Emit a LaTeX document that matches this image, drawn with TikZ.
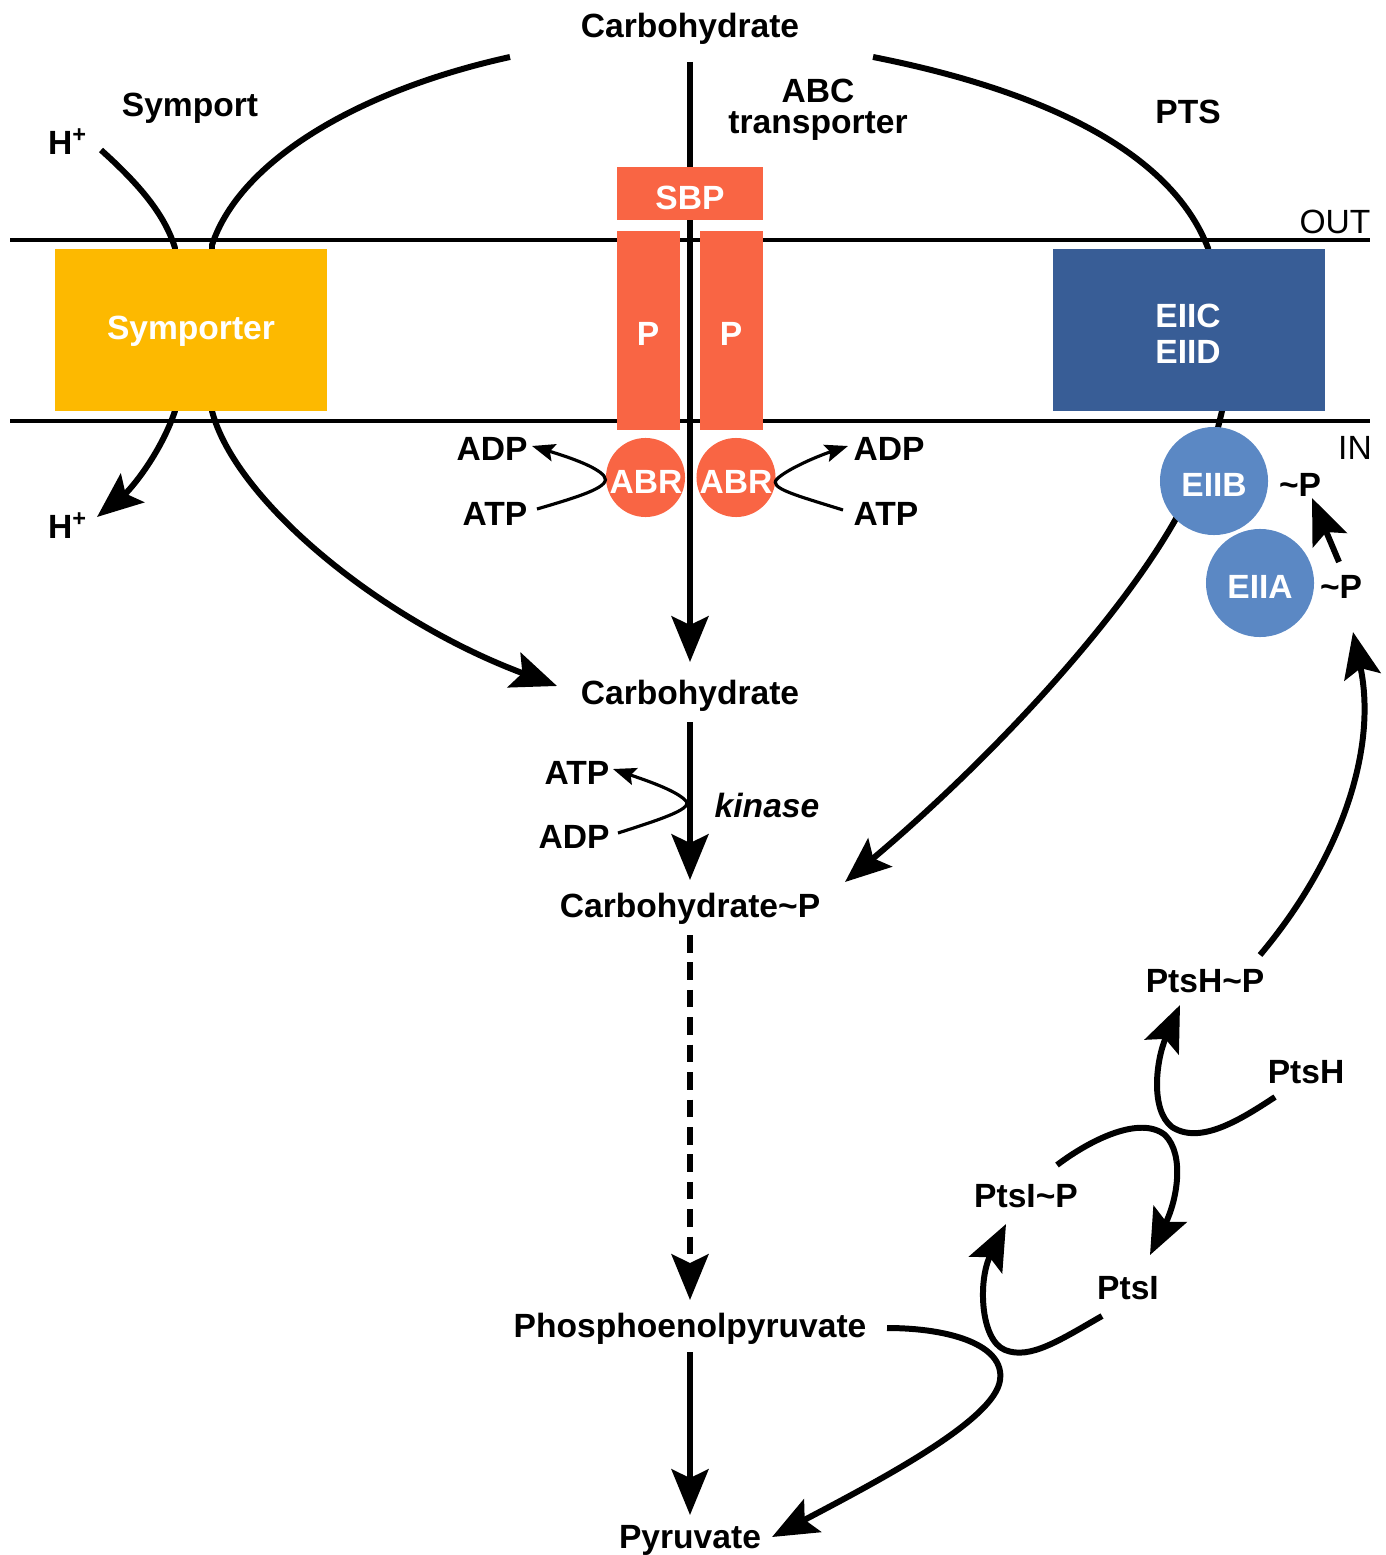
\documentclass[tikz,border=0pt]{standalone}
\usepackage{fontspec}
\setmainfont{Liberation Sans}
\usetikzlibrary{arrows.meta}
\definecolor{sympc}{RGB}{253,185,0}
\definecolor{abcc}{RGB}{249,101,68}
\definecolor{eiicc}{RGB}{56,93,150}
\definecolor{eiibc}{RGB}{91,136,196}
\begin{document}
\begin{tikzpicture}[x=0.01cm,y=-0.01cm,
  font=\fontsize{9.55}{10.3}\selectfont\bfseries,
  lbl/.style={inner sep=0pt, anchor=center, yshift=-0.035cm},
  wlbl/.style={lbl, text=white},
  memb/.style={line width=1pt},
  conn/.style={line width=1.7pt},
  thinconn/.style={line width=0.9pt},
  bigtip/.style={-{Stealth[length=13pt,width=10.5pt,inset=2.5pt]}},
  smalltip/.style={-{Stealth[length=6.5pt,width=5pt,inset=1.2pt]}}]
\useasboundingbox (0,0) rectangle (1386,1555);

% membrane
\coordinate (mL1) at (10,240); \coordinate (mR1) at (1370,240);
\coordinate (mL2) at (10,421); \coordinate (mR2) at (1370,421);
\draw[memb] (mL1) -- (mR1);
\draw[memb] (mL2) -- (mR2);

% text nodes
\node[lbl] (ctop) at (690,25) {Carbohydrate};
\node[lbl] (symport) at (190,105) {Symport};
\node[lbl] (hin) at (68,138) {H\textsuperscript{+}};
\node[lbl] (hout) at (68,522) {H\textsuperscript{+}};
\node[lbl] (abc1) at (818,87) {ABC};
\node[lbl] (abc2) at (818,123) {transporter};
\node[lbl] (pts) at (1188,108) {PTS};
\node[lbl, font=\fontsize{9.55}{10}\selectfont] (out) at (1335,218) {OUT};
\node[lbl, font=\fontsize{9.55}{10}\selectfont] (in) at (1355,444) {IN};
\node[lbl] (cmid) at (690,692) {Carbohydrate};
\node[lbl] (cp) at (690,905) {Carbohydrate\textasciitilde P};
\node[lbl] (pep) at (690,1325) {Phosphoenolpyruvate};
\node[lbl] (pyr) at (690,1537) {Pyruvate};
\node[lbl] (adpL) at (492,445) {ADP};
\node[lbl] (atpL) at (495,510) {ATP};
\node[lbl] (adpR) at (889,445) {ADP};
\node[lbl] (atpR) at (886,510) {ATP};
\node[lbl] (katp) at (577,769) {ATP};
\node[lbl] (kadp) at (574,833) {ADP};
\node[lbl, font=\fontsize{9.55}{10}\selectfont\bfseries\itshape] (kin) at (767,802) {kinase};
\node[lbl] (pB) at (1300,481) {\textasciitilde P};
\node[lbl] (pA) at (1341,583) {\textasciitilde P};
\node[lbl] (ptshp) at (1205,978) {PtsH\textasciitilde P};
\node[lbl] (ptsh) at (1306,1069) {PtsH};
\node[lbl] (ptsip) at (1026,1193) {PtsI\textasciitilde P};
\node[lbl] (ptsi) at (1128,1285) {PtsI};

% connectors behind proteins
\coordinate (s1) at (510,57); \coordinate (s2) at (212,245);
\coordinate (s3) at (212,411); \coordinate (s4) at (557,686);
\draw[conn,bigtip] (s1) .. controls (360,90) and (240,160) .. (s2) -- (s3)
   .. controls (235,500) and (380,620) .. (s4);
\coordinate (h1) at (101,150); \coordinate (h2) at (175,248);
\coordinate (h3) at (175,411); \coordinate (h4) at (97,517);
\draw[conn,bigtip] (h1) .. controls (140,185) and (165,215) .. (h2) -- (h3)
   .. controls (160,455) and (130,490) .. (h4);
\coordinate (c1) at (690,62); \coordinate (c2) at (690,662);
\draw[conn,bigtip] (c1) -- (c2);
\coordinate (p1) at (873,57); \coordinate (p2) at (1208,248);
\coordinate (p3) at (1222,411); \coordinate (p4) at (1215,440);
\draw[conn] (p1) .. controls (1040,90) and (1170,150) .. (p2) -- (p3) -- (p4);
\coordinate (q1) at (1178,515); \coordinate (q2) at (845,882);
\draw[conn,bigtip] (q1) .. controls (1120,620) and (990,760) .. (q2);

% proteins
\fill[sympc] (55,249) rectangle (327,411);
\node[wlbl] (symporter) at (191,328) {Symporter};
\fill[abcc] (617,167) rectangle (763,220);
\node[wlbl] (sbp) at (690,194) {SBP};
\fill[abcc] (617,231) rectangle (680,430);
\fill[abcc] (700,231) rectangle (763,430);
\node[wlbl] (pl) at (648,330) {P};
\node[wlbl] (pr) at (731,330) {P};
\fill[abcc] (645.5,477.5) circle[radius=0.395cm];
\fill[abcc] (736,477.5) circle[radius=0.395cm];
\node[wlbl] (abrL) at (646,478) {ABR};
\node[wlbl] (abrR) at (736,478) {ABR};
\fill[eiicc] (1053,249) rectangle (1325,411);
\node[wlbl, align=center] (eiic) at (1188,330) {EIIC\\EIID};
\fill[eiibc] (1214,481) circle[radius=0.54cm];
\fill[eiibc] (1260,583) circle[radius=0.54cm];
\node[wlbl] (eiib) at (1214,481) {EIIB};
\node[wlbl] (eiia) at (1260,583) {EIIA};

% ATP/ADP side reactions
\coordinate (la1) at (537,509); \coordinate (la2) at (532,446);
\draw[thinconn,smalltip] (la1) .. controls (585,495) and (612,486) .. (604,476)
   .. controls (596,466) and (565,456) .. (la2);
\coordinate (ra1) at (843,510); \coordinate (ra2) at (848,446);
\draw[thinconn,smalltip] (ra1) .. controls (795,495) and (768,488) .. (777,479)
   .. controls (786,470) and (815,457) .. (ra2);
\coordinate (ka1) at (618,833); \coordinate (ka2) at (613,769);
\draw[thinconn,smalltip] (ka1) .. controls (665,818) and (695,808) .. (685,800)
   .. controls (675,790) and (645,780) .. (ka2);

% main pathway
\coordinate (m1) at (690,722); \coordinate (m2) at (690,880);
\draw[conn,bigtip] (m1) -- (m2);
\coordinate (d1) at (690,935); \coordinate (d2) at (690,1300);
\draw[conn,bigtip,dash pattern=on 5pt off 2.8pt] (d1) -- (d2);
\coordinate (e1) at (690,1352); \coordinate (e2) at (690,1515);
\draw[conn,bigtip] (e1) -- (e2);

% PTS phosphorelay
\coordinate (f1) at (887,1328); \coordinate (f2) at (772,1537);
\draw[conn,bigtip] (f1) .. controls (950,1328) and (1005,1345) .. (1000,1380)
   .. controls (995,1420) and (880,1480) .. (f2);
\coordinate (g1) at (1102,1316); \coordinate (g2) at (1006,1224);
\draw[conn,bigtip] (g1) .. controls (1060,1340) and (1030,1360) .. (1005,1350)
   .. controls (980,1340) and (978,1280) .. (g2);
\coordinate (k1) at (1057,1165); \coordinate (k2) at (1150,1255);
\draw[conn,bigtip] (k1) .. controls (1090,1140) and (1140,1115) .. (1165,1135)
   .. controls (1185,1155) and (1177,1200) .. (k2);
\coordinate (n1) at (1275,1097); \coordinate (n2) at (1180,1005);
\draw[conn,bigtip] (n1) .. controls (1240,1120) and (1200,1145) .. (1172,1127)
   .. controls (1150,1110) and (1156,1060) .. (n2);
\coordinate (r1) at (1260,955); \coordinate (r2) at (1353,632);
\draw[conn,bigtip] (r1) .. controls (1340,860) and (1378,750) .. (r2);
\coordinate (t1) at (1339,562); \coordinate (t2) at (1312,498);
\draw[conn,bigtip] (t1) -- (t2);
\end{tikzpicture}
\end{document}
